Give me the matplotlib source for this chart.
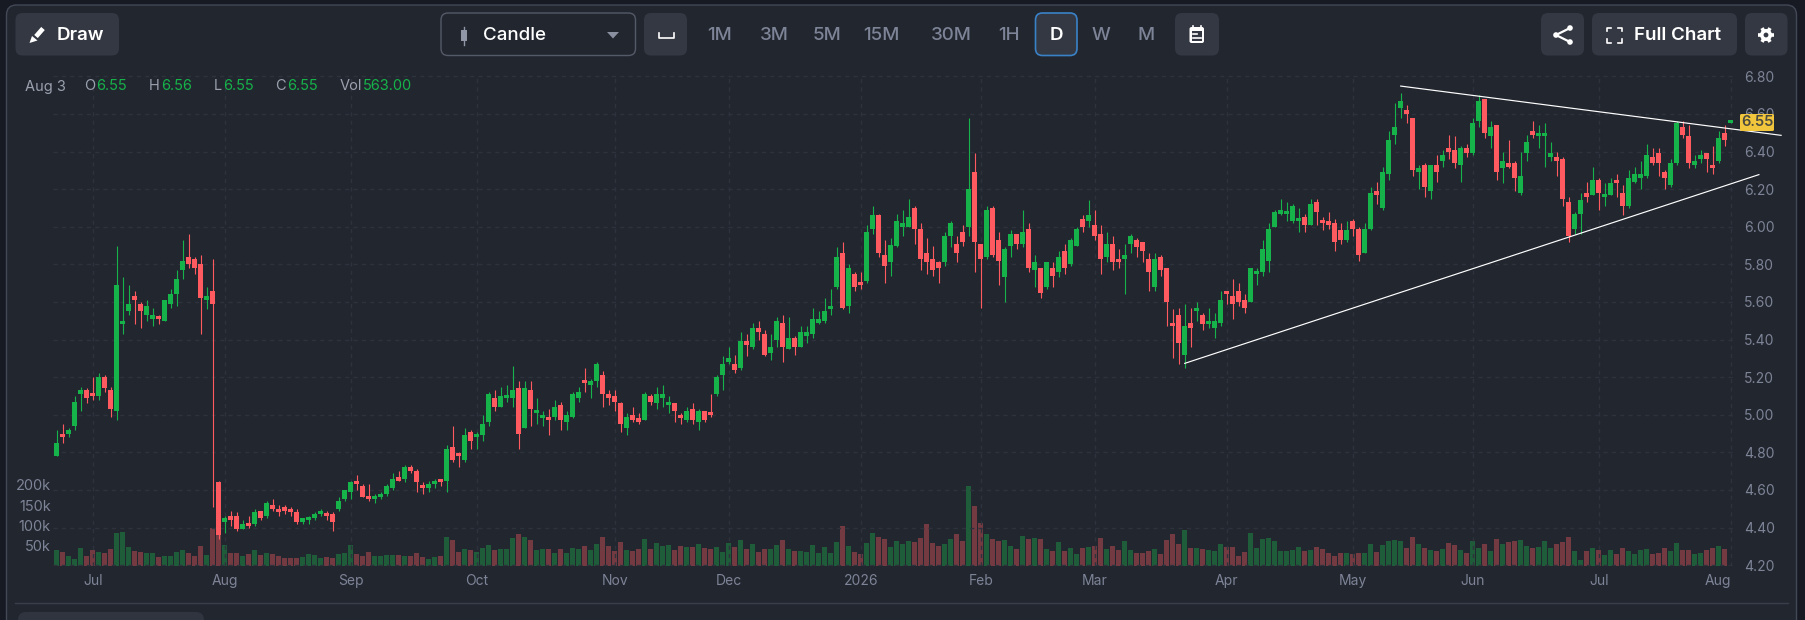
import numpy as np
import matplotlib
matplotlib.use("Agg")
import matplotlib.pyplot as plt
from matplotlib.patches import FancyBboxPatch, Polygon, Rectangle, Circle

plt.rcParams["font.family"] = ["Inter", "DejaVu Sans"]

# daily candles, one row per ten sessions
opens = [
    4.78,4.89,4.90,4.94,5.11,5.13,5.11,5.10,5.20,5.13,
    5.02,5.48,5.55,5.63,5.59,5.53,5.51,5.52,5.50,5.59,
    5.64,5.77,5.84,5.83,5.80,5.61,5.66,4.64,4.43,4.46,
    4.46,4.39,4.42,4.42,4.49,4.46,4.52,4.50,4.51,4.49,
    4.48,4.43,4.44,4.45,4.47,4.47,4.47,4.50,4.55,4.59,
    4.65,4.62,4.57,4.55,4.56,4.58,4.61,4.67,4.66,4.72,
    4.70,4.62,4.61,4.63,4.66,4.65,4.83,4.79,4.76,4.91,
    4.88,4.89,4.96,5.09,5.04,5.09,5.09,5.14,4.93,5.13,
    5.01,4.98,4.99,4.99,5.05,4.96,4.99,5.09,5.18,5.16,
    5.18,5.21,5.11,5.10,5.06,4.93,5.00,4.98,4.97,5.10,
    5.06,5.09,5.05,5.06,5.00,4.97,5.03,4.96,5.02,5.01,
    5.11,5.21,5.28,5.27,5.25,5.39,5.36,5.46,5.43,5.33,
    5.40,5.49,5.35,5.41,5.36,5.42,5.43,5.49,5.50,5.56,
    5.68,5.86,5.58,5.75,5.70,5.71,5.99,6.06,5.85,5.81,
    5.90,6.00,6.00,6.10,5.99,5.86,5.83,5.81,5.81,5.95,
    5.91,5.97,6.00,6.29,5.91,5.84,6.10,5.93,5.73,5.90,
    5.96,5.91,5.99,5.77,5.78,5.68,5.78,5.76,5.87,5.80,
    5.90,6.04,6.03,6.01,5.96,5.84,5.91,5.83,5.83,5.91,
    5.93,5.92,5.83,5.68,5.84,5.78,5.49,5.53,5.32,5.49,
    5.55,5.53,5.48,5.46,5.49,5.66,5.63,5.66,5.61,5.60,
    5.75,5.76,5.82,6.00,6.07,6.07,6.03,6.03,6.05,6.01,
    6.13,6.03,6.03,6.02,5.98,5.93,6.03,5.99,5.86,5.99,
    6.19,6.10,6.28,6.49,6.63,6.62,6.58,6.29,6.33,6.19,
    6.33,6.35,6.42,6.41,6.33,6.42,6.39,6.56,6.68,6.48,
    6.54,6.31,6.34,6.34,6.18,6.39,6.51,6.48,6.48,6.37,
    6.37,6.36,6.13,5.99,6.07,6.18,6.17,6.25,6.16,6.17,
    6.25,6.18,6.11,6.24,6.26,6.27,6.37,6.39,6.29,6.22,
    6.34,6.53,6.48,6.33,6.36,6.39,6.33,6.35,6.50,6.55,
]
highs = [
    4.92,4.95,4.93,5.10,5.15,5.14,5.20,5.22,5.21,5.15,
    5.90,5.73,5.69,5.66,5.60,5.61,5.57,5.53,5.61,5.67,
    5.77,5.93,5.96,5.84,5.85,5.68,5.83,4.65,4.46,4.49,
    4.48,4.44,4.46,4.50,4.49,4.54,4.55,4.52,4.52,4.51,
    4.50,4.45,4.46,4.48,4.50,4.49,4.48,4.56,4.60,4.65,
    4.68,4.63,4.63,4.58,4.59,4.63,4.69,4.70,4.73,4.73,
    4.71,4.64,4.65,4.66,4.66,4.84,4.94,4.80,4.93,4.92,
    4.91,5.00,5.12,5.13,5.15,5.16,5.26,5.18,5.18,5.18,
    5.09,5.02,5.03,5.08,5.07,5.02,5.12,5.15,5.25,5.19,
    5.28,5.23,5.13,5.13,5.07,5.01,5.04,5.01,5.12,5.11,
    5.15,5.16,5.10,5.06,5.01,5.04,5.06,5.03,5.02,5.11,
    5.21,5.31,5.36,5.32,5.44,5.43,5.49,5.50,5.45,5.43,
    5.52,5.53,5.52,5.42,5.47,5.47,5.57,5.55,5.62,5.67,
    5.89,5.92,5.80,5.76,5.76,6.01,6.11,6.07,5.93,5.94,
    6.07,6.09,6.15,6.11,6.02,5.94,5.90,5.82,5.97,6.03,
    5.95,6.01,6.58,6.39,5.91,6.11,6.11,5.97,5.89,5.98,
    5.96,6.09,6.02,5.85,5.78,5.81,5.81,5.87,5.91,5.94,
    6.00,6.06,6.14,6.09,6.01,5.97,5.95,5.88,5.91,5.96,
    5.94,5.92,5.86,5.86,5.85,5.78,5.56,5.57,5.59,5.57,
    5.60,5.54,5.57,5.54,5.66,5.66,5.72,5.70,5.64,5.78,
    5.78,5.93,6.02,6.09,6.15,6.13,6.12,6.10,6.07,6.15,
    6.15,6.05,6.08,6.04,6.02,6.03,6.04,6.00,6.02,6.21,
    6.24,6.32,6.51,6.66,6.71,6.65,6.58,6.33,6.34,6.33,
    6.38,6.41,6.49,6.48,6.43,6.44,6.58,6.70,6.68,6.56,
    6.54,6.40,6.46,6.35,6.40,6.49,6.56,6.54,6.55,6.45,
    6.40,6.37,6.16,6.08,6.18,6.24,6.32,6.26,6.23,6.26,
    6.28,6.22,6.30,6.32,6.35,6.44,6.42,6.42,6.30,6.36,
    6.56,6.56,6.54,6.38,6.41,6.39,6.43,6.51,6.54,6.56,
]
lows = [
    4.78,4.85,4.88,4.92,5.02,5.06,5.08,5.08,5.12,4.99,
    4.97,5.43,5.53,5.48,5.46,5.50,5.47,5.48,5.50,5.57,
    5.58,5.72,5.78,5.75,5.43,5.56,4.51,4.34,4.37,4.41,
    4.38,4.39,4.40,4.41,4.44,4.45,4.49,4.46,4.47,4.46,
    4.42,4.42,4.42,4.44,4.46,4.44,4.38,4.49,4.54,4.55,
    4.60,4.56,4.54,4.53,4.55,4.57,4.60,4.65,4.64,4.69,
    4.59,4.58,4.59,4.61,4.62,4.59,4.75,4.72,4.75,4.82,
    4.82,4.86,4.94,5.02,5.04,5.07,5.04,4.82,4.93,4.94,
    4.95,4.94,4.89,4.97,4.92,4.92,4.98,5.07,5.12,5.09,
    5.15,5.04,5.05,5.02,4.91,4.89,4.96,4.95,4.97,5.05,
    5.03,5.04,5.01,4.96,4.95,4.96,4.95,4.92,4.96,4.99,
    5.10,5.13,5.27,5.22,5.24,5.31,5.35,5.40,5.31,5.29,
    5.36,5.28,5.35,5.32,5.36,5.38,5.41,5.48,5.49,5.53,
    5.67,5.56,5.54,5.66,5.67,5.70,5.96,5.84,5.70,5.74,
    5.89,5.95,6.00,5.91,5.77,5.75,5.74,5.70,5.79,5.89,
    5.81,5.90,5.95,5.76,5.57,5.83,5.84,5.69,5.60,5.84,
    5.88,5.89,5.76,5.68,5.62,5.67,5.68,5.73,5.75,5.79,
    5.90,5.97,6.00,5.93,5.75,5.81,5.77,5.78,5.64,5.86,
    5.84,5.81,5.66,5.66,5.74,5.47,5.30,5.27,5.25,5.36,
    5.50,5.45,5.46,5.41,5.47,5.59,5.51,5.58,5.54,5.60,
    5.69,5.74,5.76,6.00,6.06,6.03,6.02,5.97,5.97,6.01,
    6.01,5.98,5.99,5.87,5.91,5.92,5.95,5.82,5.86,5.98,
    6.12,6.09,6.25,6.44,6.58,6.55,6.27,6.20,6.16,6.15,
    6.24,6.32,6.36,6.31,6.24,6.37,6.38,6.53,6.47,6.42,
    6.25,6.23,6.31,6.19,6.17,6.35,6.47,6.42,6.32,6.35,
    6.27,6.11,5.92,5.96,5.96,6.13,6.17,6.09,6.11,6.17,
    6.16,6.06,6.10,6.23,6.20,6.26,6.33,6.27,6.20,6.21,
    6.33,6.47,6.31,6.31,6.34,6.29,6.28,6.34,6.43,6.55,
]
closes = [
    4.85,4.88,4.92,5.07,5.13,5.09,5.10,5.20,5.14,5.03,
    5.69,5.49,5.59,5.61,5.55,5.58,5.53,5.51,5.61,5.64,
    5.72,5.82,5.80,5.78,5.62,5.63,5.59,4.36,4.45,4.44,
    4.39,4.42,4.41,4.48,4.45,4.53,4.50,4.48,4.49,4.48,
    4.43,4.45,4.45,4.47,4.48,4.46,4.43,4.54,4.60,4.64,
    4.63,4.56,4.55,4.56,4.58,4.62,4.66,4.65,4.72,4.70,
    4.64,4.61,4.63,4.64,4.64,4.82,4.76,4.78,4.89,4.86,
    4.89,4.95,5.11,5.04,5.10,5.10,5.13,4.90,5.14,5.03,
    5.02,5.00,4.97,5.04,4.97,5.00,5.11,5.12,5.17,5.18,
    5.27,5.11,5.09,5.07,4.95,4.99,4.97,4.96,5.11,5.07,
    5.11,5.11,5.07,5.02,4.98,5.02,4.97,5.02,4.97,5.00,
    5.20,5.27,5.30,5.24,5.39,5.37,5.46,5.44,5.32,5.36,
    5.50,5.36,5.41,5.36,5.44,5.44,5.51,5.51,5.55,5.58,
    5.84,5.57,5.78,5.68,5.69,5.97,6.06,5.86,5.79,5.90,
    6.03,6.02,6.05,5.99,5.83,5.81,5.77,5.78,5.95,6.02,
    5.86,5.92,6.20,5.92,5.83,6.09,5.85,5.82,5.88,5.96,
    5.91,5.97,5.78,5.81,5.65,5.81,5.74,5.84,5.78,5.93,
    5.99,6.00,6.06,5.95,5.83,5.91,5.81,5.81,5.85,5.95,
    5.89,5.87,5.76,5.83,5.77,5.60,5.47,5.38,5.47,5.46,
    5.57,5.48,5.50,5.50,5.61,5.64,5.59,5.60,5.57,5.78,
    5.76,5.88,5.99,6.08,6.09,6.08,6.11,6.04,6.01,6.12,
    6.08,6.02,6.01,5.92,5.93,5.98,5.99,5.85,5.99,6.18,
    6.17,6.29,6.46,6.53,6.67,6.60,6.30,6.31,6.21,6.33,
    6.29,6.38,6.40,6.34,6.42,6.39,6.55,6.67,6.50,6.53,
    6.29,6.35,6.32,6.26,6.27,6.45,6.49,6.50,6.49,6.39,
    6.35,6.15,5.95,6.07,6.14,6.16,6.25,6.18,6.17,6.23,
    6.23,6.11,6.26,6.28,6.28,6.38,6.34,6.34,6.26,6.34,
    6.55,6.49,6.34,6.35,6.38,6.36,6.31,6.47,6.46,6.55,
]
# volume in thousands
volumes = [
    39,34,25,17,44,25,39,34,32,42,
    81,84,47,37,34,32,32,22,25,25,
    34,39,32,25,49,27,94,80,52,32,
    32,25,30,39,27,32,30,25,20,20,
    20,22,30,27,20,22,20,30,32,52,
    30,25,34,25,25,27,27,27,25,25,
    32,22,17,22,25,71,64,34,42,39,
    34,44,52,39,42,42,69,79,71,64,
    39,42,42,32,42,32,44,42,49,39,
    54,71,49,37,59,39,37,42,66,42,
    57,49,52,39,49,47,47,54,44,42,
    47,34,57,47,64,42,54,34,42,42,
    52,64,42,37,37,34,52,32,47,32,
    59,99,49,34,30,57,81,71,66,47,
    62,54,62,59,69,103,57,49,54,67,
    79,62,197,148,106,79,67,62,64,49,
    42,74,67,69,67,42,37,59,37,44,
    30,44,47,49,69,42,49,39,62,39,
    32,32,37,42,30,64,79,54,89,44,
    44,42,39,37,54,47,47,25,34,81,
    44,67,69,62,37,37,39,47,37,39,
    47,42,32,25,32,32,30,32,32,54,
    34,52,62,64,62,44,71,54,44,39,
    37,42,57,52,39,32,62,44,54,37,
    66,54,59,62,64,49,44,47,62,44,
    54,59,71,37,15,37,44,39,27,39,
    30,44,37,30,39,42,30,32,44,37,
    57,39,39,30,32,39,44,49,42,0.56,
]

month_pos = [6, 28, 49, 70, 93, 112, 134, 154, 173, 195, 216, 236, 257, 279]
month_labels = ["Jul", "Aug", "Sep", "Oct", "Nov", "Dec", "2026", "Feb", "Mar", "Apr", "May", "Jun", "Jul", "Aug"]
price_ticks = [4.2, 4.4, 4.6, 4.8, 5.0, 5.2, 5.4, 5.6, 5.8, 6.0, 6.2, 6.4, 6.6, 6.8]
vol_ticks = [50, 100, 150, 200]
vol_labels = ["50k", "100k", "150k", "200k"]

# drawn trendlines: session index and price at both ends
falling_line = ([224, 287.4], [6.748, 6.486])
rising_line = ([188, 283.7], [5.273, 6.277])

legend_items = [("Aug 3", None, 25), ("O", "6.55", 84), ("H", "6.56", 148.5), ("L", "6.55", 213.5), ("C", "6.55", 275.5), ("Vol", "563.00", 339.5)]
legend_value_x = {"O": 96, "H": 161, "L": 223, "C": 287, "Vol": 363}
intervals = [("1M", 720), ("3M", 774), ("5M", 827), ("15M", 881), ("30M", 951), ("1H", 1009), ("W", 1101), ("M", 1146)]

BG = "#22262f"
OUTER = "#171a23"
BTN = "#343843"
GRID = "#2e323c"
MUTED = "#7e8497"
UP = "#16b34a"
DOWN = "#ff5a60"
VOL_UP = "#1f5c39"
VOL_DOWN = "#743a41"
W, H = 1805, 620


def px_axes(z):
    a = fig.add_axes([0, 0, 1, 1], zorder=z)
    a.set_xlim(0, W)
    a.set_ylim(H, 0)
    a.axis("off")
    return a


def button(a, x0, x1, fc=BTN, ec="none", y0=13, y1=55.5, lw=1):
    a.add_patch(FancyBboxPatch((x0, y0), x1 - x0, y1 - y0, boxstyle="round,pad=0,rounding_size=7",
                               fc=fc, ec=ec, lw=lw))


fig = plt.figure(figsize=(W / 100, H / 100), dpi=100, facecolor=OUTER)

# panel behind the chart
back = px_axes(0)
back.add_patch(FancyBboxPatch((6.5, 5), 1790, 660, boxstyle="round,pad=0,rounding_size=10", fc=BG, ec="#434857", lw=1))
back.plot([15, 1788], [603, 603], color="#3a3e4a", lw=1)
back.add_patch(FancyBboxPatch((18, 612), 186, 30, boxstyle="round,pad=0,rounding_size=8", fc="#30343f", ec="none"))

# price and volume share the plot area, mapped from pixel edges
left, right, top, bottom = 53, 1735, 75, 566
rect = [left / W, 1 - bottom / H, (right - left) / W, (bottom - top) / H]
xlim = ((left - 56.7) / 6, (right - 56.7) / 6)

ax_vol = fig.add_axes(rect, zorder=1)
ax_vol.patch.set_visible(False)
ax = fig.add_axes(rect, zorder=2)
ax.patch.set_visible(False)

x = np.arange(len(closes))
o, h, l, c = map(np.array, (opens, highs, lows, closes))
is_up = c >= o

ax_vol.bar(x, volumes, width=0.84, color=[VOL_UP if u else VOL_DOWN for u in is_up])
ax_vol.set_xlim(xlim)
ax_vol.set_ylim(0, (bottom - top) / 0.406)
ax_vol.set_xticks([])
ax_vol.set_yticks(vol_ticks)
ax_vol.set_yticklabels(vol_labels, color=MUTED, fontsize=10.5)
ax_vol.tick_params(axis="y", length=0, pad=1.5)

colors = [UP if u else DOWN for u in is_up]
ax.vlines(x, l, h, color=colors, lw=0.8)
# flat sessions still get a visible body
body_low = np.minimum(o, c)
body_h = np.maximum(np.abs(c - o), 0.016)
ax.bar(x, body_h, bottom=body_low, width=0.88, color=colors)

ax.set_xlim(xlim)
ax.set_ylim(6.8 - (bottom - 76.3) / 188, 6.8 - (top - 76.3) / 188)
ax.set_yticks(price_ticks)
ax.set_yticklabels([f"{p:.2f}" for p in price_ticks], color=MUTED, fontsize=10)
ax.yaxis.tick_right()
ax.set_xticks(month_pos)
ax.set_xticklabels(month_labels, color=MUTED, fontsize=10)
ax.get_xticklabels()[-1].set_ha("right")
ax.tick_params(axis="both", length=0)
ax.tick_params(axis="y", pad=6.5)
ax.tick_params(axis="x", pad=5.8)
ax.grid(True, color=GRID, lw=1, linestyle=(0, (3, 3)))
ax.set_axisbelow(True)
for a in (ax, ax_vol):
    for s in a.spines.values():
        s.set_visible(False)

for xs, ys in (falling_line, rising_line):
    ax.plot(xs, ys, color="white", lw=0.85, clip_on=False, zorder=5)

# toolbar, legend and price tag
ui = px_axes(3)
TY = 35.5

button(ui, 15.5, 119)
ui.plot([36, 43], [36.5, 28.5], color="white", lw=3.4, solid_capstyle="butt")
ui.add_patch(Polygon([[29.5, 43], [32, 36], [37.5, 40.5]], fc="white", ec="none"))
ui.text(57, TY, "Draw", color="white", fontsize=13.5, fontweight="semibold", va="center")

button(ui, 441, 635.5, fc="none", ec="#555a69")
ui.plot([464, 464], [27, 45], color="#9196a6", lw=1)
ui.add_patch(Rectangle((461, 29.5), 6, 11, fc="#9196a6", ec="none"))
ui.text(483, TY, "Candle", color="white", fontsize=13.5, fontweight="medium", va="center")
ui.add_patch(Polygon([[607, 32], [619, 32], [613, 38.5]], fc="#8b90a0", ec="none"))

button(ui, 644, 687)
ui.plot([659, 659, 674, 674], [33, 38, 38, 33], color="white", lw=1.2)

for label, xc in intervals:
    ui.text(xc, TY, label, color=MUTED, fontsize=13.5, fontweight="medium", ha="center", va="center")
button(ui, 1035.5, 1077, ec="#3a82c8", lw=1.2)
ui.text(1056, TY, "D", color="white", fontsize=13.5, fontweight="semibold", ha="center", va="center")

button(ui, 1175, 1219)
ui.add_patch(FancyBboxPatch((1189.5, 27), 14.5, 16, boxstyle="round,pad=0,rounding_size=2", fc="white", ec="none"))
ui.add_patch(Rectangle((1191.5, 31), 10.5, 10, fc=BTN, ec="none"))
ui.plot([1193, 1197], [34, 34], color="white", lw=1.2)
ui.plot([1193, 1200.5], [38, 38], color="white", lw=1.2)
ui.plot([1193, 1193], [25.5, 28], color="white", lw=1.2)
ui.plot([1200.5, 1200.5], [25.5, 28], color="white", lw=1.2)

button(ui, 1541, 1584)
ui.plot([1570, 1556, 1570], [28, 35, 42], color="white", lw=1.6)
for cx, cy in ((1570, 28), (1556, 35), (1570, 42)):
    ui.add_patch(Circle((cx, cy), 2.8, fc="white", ec="none"))

button(ui, 1592, 1737)
for xs, ys in (([1607, 1607, 1611], [31, 27.5, 27.5]), ([1618, 1622, 1622], [27.5, 27.5, 31]),
               ([1607, 1607, 1611], [39, 42.5, 42.5]), ([1618, 1622, 1622], [42.5, 42.5, 39])):
    ui.plot(xs, ys, color="white", lw=1.2)
ui.text(1634, TY, "Full Chart", color="white", fontsize=13.5, fontweight="semibold", va="center")

button(ui, 1745, 1787.5)
gx, gy = 1766, 35
for ang in np.deg2rad([0, 60, 120]):
    dx, dy = 8 * np.cos(ang), 8 * np.sin(ang)
    ui.plot([gx - dx, gx + dx], [gy - dy, gy + dy], color="white", lw=2.6, solid_capstyle="butt")
ui.add_patch(Circle((gx, gy), 6, fc="white", ec="none", zorder=3))
ui.add_patch(Circle((gx, gy), 2.4, fc=BTN, ec="none", zorder=4))

for name, value, xt in legend_items:
    ui.text(xt, 86.5, name, color="#9aa0ae", fontsize=10.5, va="center")
    if value:
        ui.text(legend_value_x[name], 86.5, value, color=UP, fontsize=10.5, va="center")

ui.add_patch(FancyBboxPatch((1740, 114), 34, 17, boxstyle="round,pad=0,rounding_size=1.5", fc="#f2c63c", ec="none"))
ui.text(1757, 122.5, "6.55", color="#4a4a40", fontsize=10.5, fontweight="semibold", ha="center", va="center")

fig.savefig("out.png", dpi=100, facecolor=OUTER)
